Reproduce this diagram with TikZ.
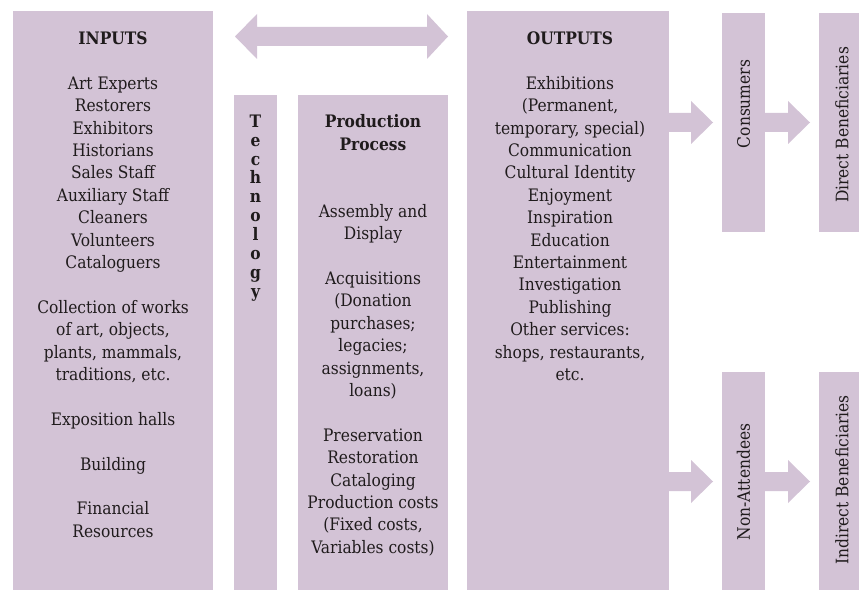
\documentclass[tikz,border=0pt]{standalone}
\usepackage{fontspec}
\setmainfont{DejaVu Serif Condensed}
\usetikzlibrary{calc}
\definecolor{boxfill}{HTML}{D3C3D6}
\definecolor{ink}{HTML}{1F1B1C}
\tikzset{
  box/.style={fill=boxfill, draw=none, inner sep=0pt, outer sep=0pt},
  txt/.style={text=ink, align=center, inner sep=0pt, anchor=north,
    font=\fontsize{17.2}{22.4}\selectfont},
  vtxt/.style={text=ink, inner sep=0pt, rotate=90,
    font=\fontsize{17.2}{22.4}\selectfont},
}
\newcommand{\fatarrow}[3]{%
  \fill[boxfill] let \p1=(#1.east), \p2=(#2.west) in
  (\x1,#3pt+9.5pt) -- (\x2-31pt,#3pt+9.5pt) -- (\x2-31pt,#3pt+21.5pt) --
  (\x2-9pt,#3pt) -- (\x2-31pt,#3pt-21.5pt) -- (\x2-31pt,#3pt-9.5pt) --
  (\x1,#3pt-9.5pt) -- cycle;}
\begin{document}
\begin{tikzpicture}[x=1pt,y=1pt]
\useasboundingbox (0,0) rectangle (859,590);
% boxes
\node[box, anchor=south west, minimum width=200pt, minimum height=579pt] (in) at (13,0) {};
\node[box, anchor=south west, minimum width=43pt, minimum height=495pt] (tech) at (234,0) {};
\node[box, anchor=south west, minimum width=150pt, minimum height=495pt] (prod) at (298,0) {};
\node[box, anchor=south west, minimum width=202pt, minimum height=579pt] (out) at (467,0) {};
\node[box, anchor=south west, minimum width=43pt, minimum height=219pt] (cons) at (722,358) {};
\node[box, anchor=south west, minimum width=40pt, minimum height=219pt] (direct) at (819,358) {};
\node[box, anchor=south west, minimum width=43pt, minimum height=218pt] (nonatt) at (722,0) {};
\node[box, anchor=south west, minimum width=40pt, minimum height=218pt] (indirect) at (819,0) {};
% double arrow
\fill[boxfill] let \p1=(tech.west), \p2=(prod.east) in
  (\x1+1pt,553.5pt) -- (\x1+23pt,576pt) -- (\x1+23pt,563pt) -- (\x2-21pt,563pt) --
  (\x2-21pt,576pt) -- (\x2,553.5pt) -- (\x2-21pt,531pt) -- (\x2-21pt,544pt) --
  (\x1+23pt,544pt) -- (\x1+23pt,531pt) -- cycle;
% flow arrows
\fatarrow{out}{cons}{467.5}
\fatarrow{cons}{direct}{467.5}
\fatarrow{out}{nonatt}{108.5}
\fatarrow{nonatt}{indirect}{108.5}
% texts
\node[txt] (tin) at (113,558.5) {\textbf{INPUTS}\\[22.4pt]
Art Experts\\Restorers\\Exhibitors\\Historians\\Sales Staff\\Auxiliary Staff\\Cleaners\\Volunteers\\Cataloguers\\[22.4pt]
Collection of works\\of art, objects,\\plants, mammals,\\traditions, etc.\\[22.4pt]
Exposition halls\\[22.4pt]
Building\\[22.4pt]
Financial\\Resources};
\node[txt, font=\bfseries\fontsize{17.2}{18.9}\selectfont] (ttech) at (255.5,475.5) {T\\e\\c\\h\\n\\o\\l\\o\\g\\y};
\node[txt] (tprod) at (373,475.5) {\textbf{Production}\\\textbf{Process}\\[44.8pt]
Assembly and\\Display\\[22.4pt]
Acquisitions\\(Donation\\purchases;\\legacies;\\assignments,\\loans)\\[22.4pt]
Preservation\\Restoration\\Cataloging\\Production costs\\(Fixed costs,\\Variables costs)};
\node[txt] (tout) at (570,558.5) {\textbf{OUTPUTS}\\[22.4pt]
Exhibitions\\(Permanent,\\temporary, special)\\Communication\\Cultural Identity\\Enjoyment\\Inspiration\\Education\\Entertainment\\Investigation\\Publishing\\Other services:\\shops, restaurants,\\etc.};
\node[vtxt] (tcons) at (743.5,486) {Consumers};
\node[vtxt] (tdirect) at (842,465) {Direct Beneficiaries};
\node[vtxt] (tnon) at (743.5,108) {Non-Attendees};
\node[vtxt] (tind) at (842,110) {Indirect Beneficiaries};
\end{tikzpicture}
\end{document}
